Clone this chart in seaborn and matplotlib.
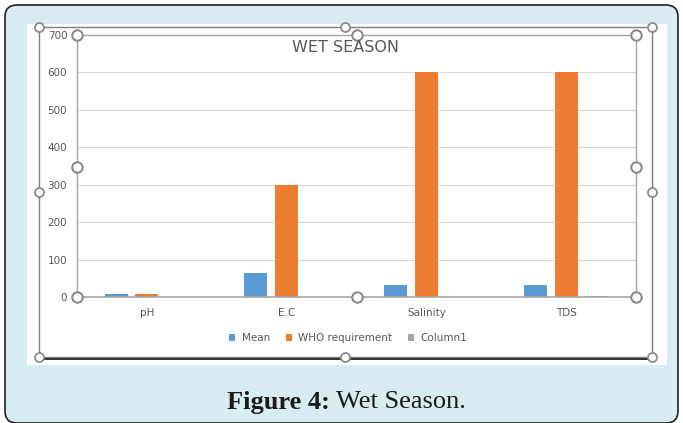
import pandas as pd
import matplotlib.pyplot as plt
import seaborn as sns
from matplotlib.patches import FancyBboxPatch, Rectangle

# values
categories = ["pH", "E.C", "Salinity", "TDS"]
mean_vals = [6.8, 64, 32, 32]
who_vals = [8.5, 300, 600, 600]
column1_vals = [0, 0, 0, 4]
series = ["Mean", "WHO requirement", "Column1"]
colors = ["#5b9bd5", "#ed7d31", "#a5a5a5"]

df = pd.DataFrame({
    "param": categories * 3,
    "series": [s for s in series for _ in categories],
    "value": mean_vals + who_vals + column1_vals,
})

W, H = 683, 423
sns.set_style("white")
plt.rcParams["font.family"] = ["DejaVu Sans"]
fig = plt.figure(figsize=(W / 100, H / 100), dpi=100)
fig.patch.set_facecolor("white")

# background layer in pixel coords
bg = fig.add_axes([0, 0, 1, 1], zorder=0)
bg.set_xlim(0, W)
bg.set_ylim(H, 0)
bg.axis("off")
bg.add_patch(FancyBboxPatch((5, 5), 673, 418, boxstyle="round,pad=0,rounding_size=12",
                            facecolor="#d8ecf1", edgecolor="#222222", linewidth=1.2))
bg.add_patch(Rectangle((27, 24), 640, 341, facecolor="white", edgecolor="none"))
bg.text(330, 402, "Figure 4:", ha="right", va="center", fontsize=19,
        fontweight="bold", family="Liberation Serif", color="#1a1a1a")
bg.text(336, 402, "Wet Season.", ha="left", va="center", fontsize=19,
        family="Liberation Serif", color="#1a1a1a")

# chart
ax = fig.add_axes([77 / W, 1 - 297 / H, 559 / W, 262 / H], zorder=1)
ax.patch.set_alpha(0)
sns.barplot(data=df, x="param", y="value", hue="series", hue_order=series,
            palette=colors, saturation=1, width=0.66, gap=0.25,
            linewidth=0, ax=ax)
ax.set_xlim(-0.5, 3.5)
ax.set_ylim(0, 700)
ax.set_yticks(range(0, 701, 100))
ax.yaxis.grid(True, color="#d9d9d9", linewidth=0.8)
ax.set_axisbelow(True)
ax.set_xlabel("")
ax.set_ylabel("")
for s in ["left", "right", "top"]:
    ax.spines[s].set_color("#a6a6a6")
    ax.spines[s].set_linewidth(1)
ax.spines["bottom"].set_color("#a6a6a6")
ax.spines["bottom"].set_linewidth(1.2)
ax.tick_params(axis="y", length=0, pad=7, labelsize=7.5, labelcolor="#595959")
ax.tick_params(axis="x", length=0, pad=8, labelsize=7.5, labelcolor="#595959")
ax.legend(loc="center", bbox_to_anchor=(348 / W, 1 - 338 / H),
          bbox_transform=fig.transFigure, ncol=3, frameon=False,
          fontsize=7.5, labelcolor="#595959", handlelength=0.6,
          handleheight=0.6, handletextpad=0.6, columnspacing=1.5)
fig.text(345 / W, 1 - 47 / H, "WET SEASON", ha="center", va="center",
         fontsize=11.5, color="#595959")

# selection frame and handles on top
top = fig.add_axes([0, 0, 1, 1], zorder=3)
top.set_xlim(0, W)
top.set_ylim(H, 0)
top.axis("off")
top.patch.set_alpha(0)
top.plot([39, 652, 652, 39, 39], [27, 27, 357, 357, 27], color="#7f7f7f", lw=1)
top.plot([39, 652], [359, 359], color="#222222", lw=1.3)
hx = [39, 345, 652, 39, 652, 39, 345, 652]
hy = [27, 27, 27, 192, 192, 357, 357, 357]
top.plot(hx, hy, "o", ms=6.5, mfc="white", mec="#8c8c8c", mew=1.3)
ix = [77, 357, 636, 77, 636, 77, 357, 636]
iy = [35, 35, 35, 167, 167, 297, 297, 297]
top.plot(ix, iy, "o", ms=7.5, mfc="white", mec="#8c8c8c", mew=1.5)

fig.savefig("out.png", dpi=100)
